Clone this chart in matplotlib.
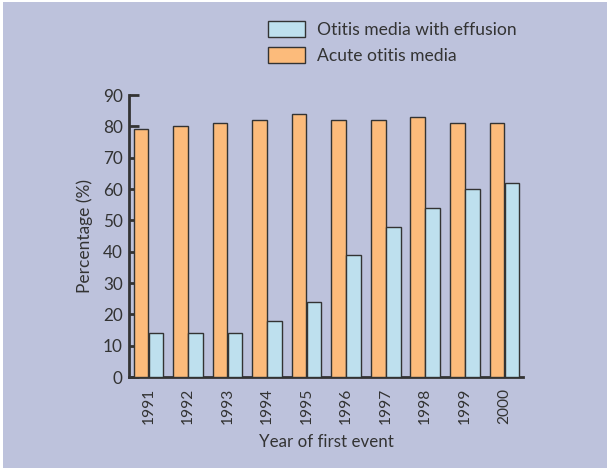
import matplotlib.pyplot as plt
import matplotlib.patches as mpatches
import numpy as np

years = ["1991", "1992", "1993", "1994", "1995", "1996", "1997", "1998", "1999", "2000"]
acute = [79, 80, 81, 82, 84, 82, 82, 83, 81, 81]
effusion = [14, 14, 14, 18, 24, 39, 48, 54, 60, 62]

bg = "#bdc2dc"
orange = "#fcbb7b"
blue = "#bee0ee"
dark = "#333333"

plt.rcParams['font.family'] = ['Lato', 'DejaVu Sans']

fig = plt.figure(figsize=(6.12, 4.72), dpi=100, facecolor="white")
# lavender panel with thin white frame
fig.patches.append(mpatches.Rectangle((3 / 612, 4 / 472), 604 / 612, 466 / 472,
                                      transform=fig.transFigure, facecolor=bg,
                                      edgecolor="none", zorder=-10))

ax = fig.add_axes([129 / 612, 1 - 377 / 472, 394 / 612, 282 / 472])
ax.set_facecolor("none")

x = np.arange(len(years))
w = 0.37
ax.bar(x - 0.19, acute, w, color=orange, edgecolor=dark, linewidth=1.0, zorder=3)
ax.bar(x + 0.19, effusion, w, color=blue, edgecolor=dark, linewidth=1.0, zorder=3)

ax.set_xlim(-0.49, 9.47)
ax.set_ylim(0, 90)
ax.set_yticks(np.arange(0, 91, 10))
ax.set_xticks(x, labels=years, rotation=90)

for s in ["top", "right"]:
    ax.spines[s].set_visible(False)
for s in ["left", "bottom"]:
    ax.spines[s].set_linewidth(2.0)
    ax.spines[s].set_color(dark)

ax.tick_params(axis="y", direction="in", length=7.5, width=2, color=dark,
               labelsize=12.3, labelcolor=dark, pad=4.5)
ax.tick_params(axis="x", direction="in", length=3, width=2, color=dark,
               labelsize=11.2, labelcolor=dark, pad=8)

ax.set_ylabel("Percentage (%)", fontsize=12.5, color=dark, labelpad=7)
ax.set_xlabel("Year of first event", fontsize=12.2, color=dark, labelpad=7)

handles = [mpatches.Patch(facecolor=blue, edgecolor=dark, linewidth=1.0),
           mpatches.Patch(facecolor=orange, edgecolor=dark, linewidth=1.0)]
fig.legend(handles, ["Otitis media with effusion", "Acute otitis media"],
           loc="upper left", bbox_to_anchor=(268 / 612, 1 - 21 / 472),
           frameon=False, fontsize=12.6, borderpad=0, borderaxespad=0,
           handlelength=2.1, handleheight=1.05, handletextpad=0.7,
           labelspacing=0.5, labelcolor=dark)

fig.savefig("out.png", dpi=100)
